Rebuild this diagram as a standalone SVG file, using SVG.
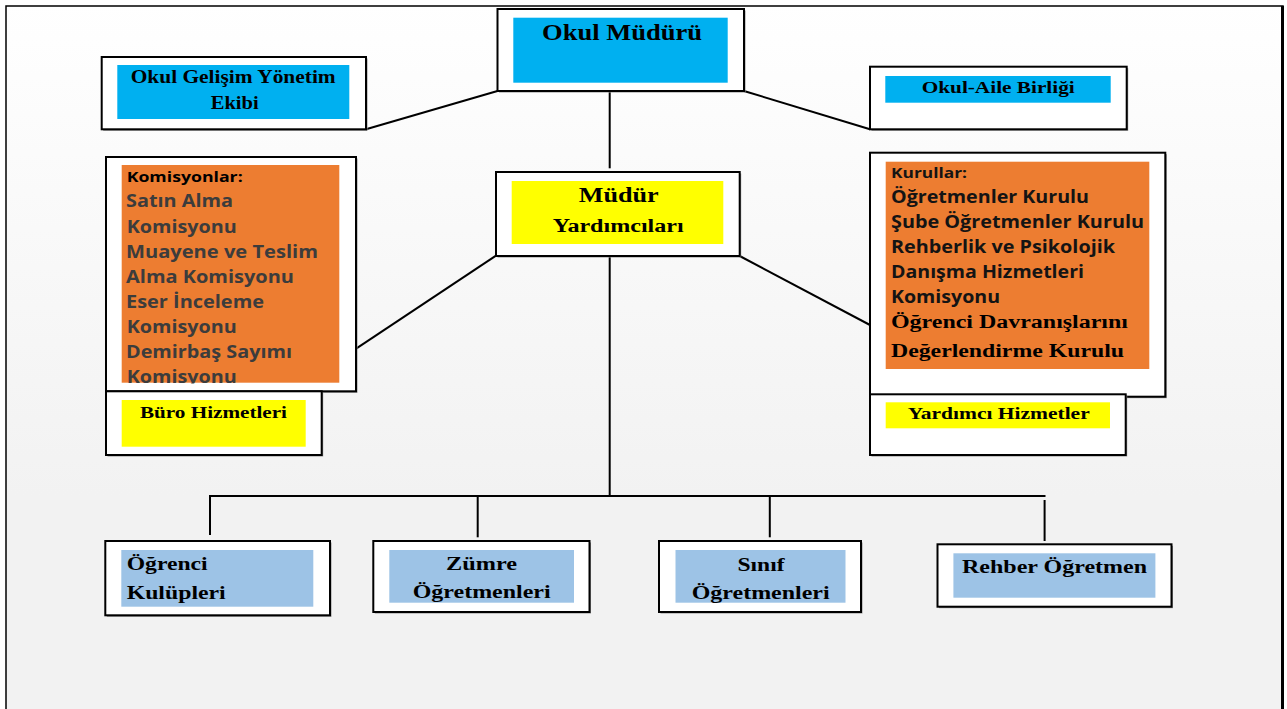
<svg xmlns="http://www.w3.org/2000/svg" width="1287" height="709" viewBox="0 0 1287 709">
<defs>
<linearGradient id="bg" x1="0" y1="0" x2="0" y2="709" gradientUnits="userSpaceOnUse">
<stop offset="0" stop-color="#ffffff"/>
<stop offset="0.7" stop-color="#f2f2f2"/>
<stop offset="1" stop-color="#f2f2f2"/>
</linearGradient>
<clipPath id="clipK"><rect x="100" y="160" width="260" height="223.5"/></clipPath>
<style>
.box{fill:#ffffff;stroke:#000;stroke-width:2}
.sh{fill:#8f8f8f}
.blue{fill:#00b0f0}
.yel{fill:#ffff00}
.org{fill:#ed7d31}
.lb{fill:#9dc3e6}
.s{font-family:"Liberation Serif","Times New Roman",serif;font-weight:bold;fill:#000}
.a{font-family:"Open Sans","Liberation Sans",sans-serif;font-weight:bold}
.g{fill:#3c3c3c}
.k{fill:#141414}
.c{stroke:#000;stroke-width:2;fill:none}
</style>
</defs>
<rect x="0" y="0" width="1287" height="709" fill="#ffffff"/>
<rect x="6" y="6" width="1277" height="712" fill="url(#bg)" stroke="#000" stroke-width="1.5"/>
<line x1="1282.5" y1="6" x2="1282.5" y2="709" stroke="#000" stroke-width="3"/>

<g id="connectors">
<line class="c" x1="366" y1="129.3" x2="497.5" y2="91"/>
<line class="c" x1="744" y1="91" x2="870" y2="129.3"/>
<line class="c" x1="609.7" y1="91" x2="609.7" y2="168.3"/>
<line class="c" x1="496" y1="255.7" x2="355" y2="349.3"/>
<line class="c" x1="739.7" y1="256" x2="870" y2="325"/>
<line class="c" x1="609.7" y1="256" x2="609.7" y2="496"/>
<line class="c" x1="209" y1="496" x2="1045.5" y2="496"/>
<line class="c" x1="210" y1="496" x2="210" y2="535"/>
<line class="c" x1="477.7" y1="496" x2="477.7" y2="537.3"/>
<line class="c" x1="769.8" y1="496" x2="769.8" y2="537.3"/>
<line class="c" x1="1044.6" y1="500" x2="1044.6" y2="541"/>
</g>

<g id="n-okul-muduru">
<rect class="sh" x="499" y="10.5" width="246.5" height="82"/>
<rect class="box" x="497.5" y="9" width="246.5" height="82"/>
<rect class="blue" x="513.3" y="17.7" width="214.4" height="65"/>
<text class="s" x="542" y="40" font-size="23" textLength="160" lengthAdjust="spacingAndGlyphs">Okul Müdürü</text>
</g>

<g id="n-okul-gelisim">
<rect class="sh" x="103.2" y="58.5" width="264.3" height="72.3"/>
<rect class="box" x="101.7" y="57" width="264.3" height="72.3"/>
<rect class="blue" x="117.3" y="65" width="232" height="54"/>
<text class="s" x="130.7" y="82.7" font-size="18" textLength="205" lengthAdjust="spacingAndGlyphs">Okul Gelişim Yönetim</text>
<text class="s" x="210.7" y="109.3" font-size="18" textLength="48" lengthAdjust="spacingAndGlyphs">Ekibi</text>
</g>

<g id="n-okul-aile">
<rect class="sh" x="871.5" y="68.2" width="256.7" height="62.6"/>
<rect class="box" x="870" y="66.7" width="256.7" height="62.6"/>
<rect class="blue" x="885.3" y="76" width="225.4" height="26.7"/>
<text class="s" x="921.7" y="93.3" font-size="16" textLength="153" lengthAdjust="spacingAndGlyphs">Okul-Aile Birliği</text>
</g>

<g id="n-mudur-yard">
<rect class="sh" x="497.5" y="173.5" width="243.7" height="84"/>
<rect class="box" x="496" y="172" width="243.7" height="84"/>
<rect class="yel" x="511.7" y="181" width="211.6" height="63"/>
<text class="s" x="578.7" y="202.3" font-size="22" textLength="80" lengthAdjust="spacingAndGlyphs">Müdür</text>
<text class="s" x="552.7" y="232.3" font-size="18.5" textLength="131" lengthAdjust="spacingAndGlyphs">Yardımcıları</text>
</g>

<g id="n-komisyonlar">
<rect class="sh" x="107.5" y="158.5" width="250" height="234.3"/>
<rect class="box" x="106" y="157" width="250" height="234.3"/>
<rect class="org" x="121.7" y="165" width="217.6" height="217.7"/>
<g clip-path="url(#clipK)">
<text class="a" x="126.7" y="182.3" font-size="14" fill="#000" textLength="116" lengthAdjust="spacingAndGlyphs">Komisyonlar:</text>
<text class="a g" x="126" y="207.3" font-size="17" textLength="107" lengthAdjust="spacingAndGlyphs">Satın Alma</text>
<text class="a g" x="126.7" y="233.3" font-size="17" textLength="110" lengthAdjust="spacingAndGlyphs">Komisyonu</text>
<text class="a g" x="126" y="258.3" font-size="17" textLength="192" lengthAdjust="spacingAndGlyphs">Muayene ve Teslim</text>
<text class="a g" x="126" y="283.3" font-size="17" textLength="168" lengthAdjust="spacingAndGlyphs">Alma Komisyonu</text>
<text class="a g" x="126" y="308.3" font-size="17" textLength="138" lengthAdjust="spacingAndGlyphs">Eser İnceleme</text>
<text class="a g" x="126.7" y="333.3" font-size="17" textLength="110" lengthAdjust="spacingAndGlyphs">Komisyonu</text>
<text class="a g" x="126" y="358.3" font-size="17" textLength="166" lengthAdjust="spacingAndGlyphs">Demirbaş Sayımı</text>
<text class="a g" x="126.7" y="383.3" font-size="17" textLength="110" lengthAdjust="spacingAndGlyphs">Komisyonu</text>
</g>
</g>

<g id="n-buro">
<rect class="sh" x="107.5" y="392.8" width="215.7" height="63.7"/>
<rect class="box" x="106" y="391.3" width="215.7" height="63.7"/>
<rect class="yel" x="121.7" y="400" width="184" height="46.7"/>
<text class="s" x="140" y="417.7" font-size="17" textLength="147" lengthAdjust="spacingAndGlyphs">Büro Hizmetleri</text>
</g>

<g id="n-kurullar">
<rect class="sh" x="871.5" y="154.2" width="295.3" height="244"/>
<rect class="box" x="870" y="152.7" width="295.3" height="244"/>
<rect class="org" x="885.7" y="161.7" width="263.6" height="207.3"/>
<text class="a k" x="891" y="178.3" font-size="14" textLength="76" lengthAdjust="spacingAndGlyphs">Kurullar:</text>
<text class="a k" x="891" y="203.3" font-size="17" textLength="198" lengthAdjust="spacingAndGlyphs">Öğretmenler Kurulu</text>
<text class="a k" x="891" y="228.3" font-size="17" textLength="253" lengthAdjust="spacingAndGlyphs">Şube Öğretmenler Kurulu</text>
<text class="a k" x="891" y="253.3" font-size="17" textLength="224" lengthAdjust="spacingAndGlyphs">Rehberlik ve Psikolojik</text>
<text class="a k" x="891" y="278.3" font-size="17" textLength="193" lengthAdjust="spacingAndGlyphs">Danışma Hizmetleri</text>
<text class="a k" x="891" y="303.3" font-size="17" textLength="109" lengthAdjust="spacingAndGlyphs">Komisyonu</text>
<text class="s" x="891" y="328.3" font-size="18" textLength="237" lengthAdjust="spacingAndGlyphs">Öğrenci Davranışlarını</text>
<text class="s" x="891" y="356.7" font-size="18" textLength="233" lengthAdjust="spacingAndGlyphs">Değerlendirme Kurulu</text>
</g>

<g id="n-yardimci">
<rect class="sh" x="871.5" y="395.8" width="255.7" height="60.7"/>
<rect class="box" x="870" y="394.3" width="255.7" height="60.7"/>
<rect class="yel" x="885.7" y="402.3" width="224.3" height="26"/>
<text class="s" x="907.7" y="419.3" font-size="17" textLength="182" lengthAdjust="spacingAndGlyphs">Yardımcı Hizmetler</text>
</g>

<g id="n-ogrenci">
<rect class="sh" x="106.8" y="542.5" width="224.7" height="74.3"/>
<rect class="box" x="105.3" y="541" width="224.7" height="74.3"/>
<rect class="lb" x="121.3" y="550" width="192" height="56.7"/>
<text class="s" x="126.7" y="570" font-size="19" textLength="81" lengthAdjust="spacingAndGlyphs">Öğrenci</text>
<text class="s" x="126.7" y="599.3" font-size="19" textLength="99" lengthAdjust="spacingAndGlyphs">Kulüpleri</text>
</g>

<g id="n-zumre">
<rect class="sh" x="374.8" y="542.5" width="216.2" height="71"/>
<rect class="box" x="373.3" y="541" width="216.2" height="71"/>
<rect class="lb" x="389.3" y="550" width="184.7" height="52.7"/>
<text class="s" x="446" y="570" font-size="19" textLength="71" lengthAdjust="spacingAndGlyphs">Zümre</text>
<text class="s" x="412.7" y="598.3" font-size="19" textLength="138" lengthAdjust="spacingAndGlyphs">Öğretmenleri</text>
</g>

<g id="n-sinif">
<rect class="sh" x="660.5" y="542.5" width="202" height="71"/>
<rect class="box" x="659" y="541" width="202" height="71"/>
<rect class="lb" x="675.5" y="550" width="170" height="52.7"/>
<text class="s" x="737.5" y="570.7" font-size="19" textLength="47" lengthAdjust="spacingAndGlyphs">Sınıf</text>
<text class="s" x="691.7" y="599.3" font-size="19" textLength="138" lengthAdjust="spacingAndGlyphs">Öğretmenleri</text>
</g>

<g id="n-rehber">
<rect class="sh" x="939" y="545.8" width="234" height="62.4"/>
<rect class="box" x="937.5" y="544.3" width="234" height="62.4"/>
<rect class="lb" x="953.4" y="553.3" width="202" height="44.4"/>
<text class="s" x="962" y="573.3" font-size="19" textLength="185" lengthAdjust="spacingAndGlyphs">Rehber Öğretmen</text>
</g>
</svg>
